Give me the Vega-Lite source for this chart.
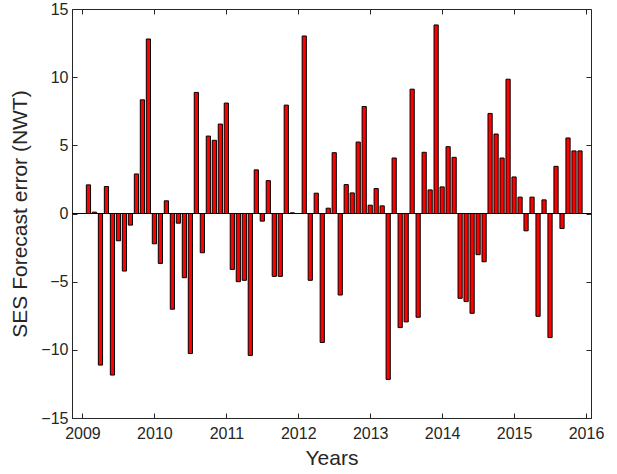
{
  "$schema": "https://vega.github.io/schema/vega-lite/v6.json",
  "autosize": "none",
  "width": 519,
  "height": 409,
  "padding": {"left": 72, "top": 9, "right": 26, "bottom": 56},
  "background": "white",
  "config": {
    "view": {"stroke": "#262626", "strokeWidth": 1},
    "font": "Liberation Sans",
    "axis": {
      "domainColor": "#262626",
      "tickColor": "#262626",
      "labelColor": "#262626",
      "titleColor": "#262626",
      "labelFont": "Liberation Sans",
      "titleFont": "Liberation Sans",
      "labelFontSize": 16,
      "titleFontSize": 21,
      "titleFontWeight": "normal",
      "grid": false,
      "tickSize": -5
    }
  },
  "data": {
    "values": [
      {"t": 2009.0833, "err": 2.1},
      {"t": 2009.1667, "err": 0.1},
      {"t": 2009.25, "err": -11.12},
      {"t": 2009.3333, "err": 1.98},
      {"t": 2009.4167, "err": -11.85},
      {"t": 2009.5, "err": -2.0},
      {"t": 2009.5833, "err": -4.22},
      {"t": 2009.6667, "err": -0.85},
      {"t": 2009.75, "err": 2.9},
      {"t": 2009.8333, "err": 8.34},
      {"t": 2009.9167, "err": 12.8},
      {"t": 2010.0, "err": -2.22},
      {"t": 2010.0833, "err": -3.66},
      {"t": 2010.1667, "err": 0.93},
      {"t": 2010.25, "err": -7.02},
      {"t": 2010.3333, "err": -0.71},
      {"t": 2010.4167, "err": -4.71},
      {"t": 2010.5, "err": -10.27},
      {"t": 2010.5833, "err": 8.88},
      {"t": 2010.6667, "err": -2.88},
      {"t": 2010.75, "err": 5.68},
      {"t": 2010.8333, "err": 5.37},
      {"t": 2010.9167, "err": 6.56},
      {"t": 2011.0, "err": 8.1},
      {"t": 2011.0833, "err": -4.1},
      {"t": 2011.1667, "err": -5.0},
      {"t": 2011.25, "err": -4.9},
      {"t": 2011.3333, "err": -10.41},
      {"t": 2011.4167, "err": 3.2},
      {"t": 2011.5, "err": -0.56},
      {"t": 2011.5833, "err": 2.41},
      {"t": 2011.6667, "err": -4.61},
      {"t": 2011.75, "err": -4.61},
      {"t": 2011.8333, "err": 7.95},
      {"t": 2011.9167, "err": 0.05},
      {"t": 2012.0, "err": 0},
      {"t": 2012.0833, "err": 13.02},
      {"t": 2012.1667, "err": -4.9},
      {"t": 2012.25, "err": 1.49},
      {"t": 2012.3333, "err": -9.46},
      {"t": 2012.4167, "err": 0.39},
      {"t": 2012.5, "err": 4.46},
      {"t": 2012.5833, "err": -5.98},
      {"t": 2012.6667, "err": 2.12},
      {"t": 2012.75, "err": 1.51},
      {"t": 2012.8333, "err": 5.24},
      {"t": 2012.9167, "err": 7.85},
      {"t": 2013.0, "err": 0.61},
      {"t": 2013.0833, "err": 1.83},
      {"t": 2013.1667, "err": 0.56},
      {"t": 2013.25, "err": -12.17},
      {"t": 2013.3333, "err": 4.07},
      {"t": 2013.4167, "err": -8.37},
      {"t": 2013.5, "err": -7.95},
      {"t": 2013.5833, "err": 9.12},
      {"t": 2013.6667, "err": -7.61},
      {"t": 2013.75, "err": 4.49},
      {"t": 2013.8333, "err": 1.73},
      {"t": 2013.9167, "err": 13.83},
      {"t": 2014.0, "err": 1.95},
      {"t": 2014.0833, "err": 4.9},
      {"t": 2014.1667, "err": 4.12},
      {"t": 2014.25, "err": -6.22},
      {"t": 2014.3333, "err": -6.46},
      {"t": 2014.4167, "err": -7.32},
      {"t": 2014.5, "err": -3.02},
      {"t": 2014.5833, "err": -3.54},
      {"t": 2014.6667, "err": 7.34},
      {"t": 2014.75, "err": 5.83},
      {"t": 2014.8333, "err": 4.07},
      {"t": 2014.9167, "err": 9.85},
      {"t": 2015.0, "err": 2.68},
      {"t": 2015.0833, "err": 1.2},
      {"t": 2015.1667, "err": -1.27},
      {"t": 2015.25, "err": 1.2},
      {"t": 2015.3333, "err": -7.54},
      {"t": 2015.4167, "err": 1.0},
      {"t": 2015.5, "err": -9.1},
      {"t": 2015.5833, "err": 3.46},
      {"t": 2015.6667, "err": -1.1},
      {"t": 2015.75, "err": 5.54},
      {"t": 2015.8333, "err": 4.59},
      {"t": 2015.9167, "err": 4.59}
    ]
  },
  "layer": [
    {
      "mark": {"type": "bar", "orient": "vertical", "size": 4.2, "fill": "#ff0000", "stroke": "#000000", "strokeWidth": 1},
      "encoding": {
        "x": {
          "field": "t", "type": "quantitative",
          "scale": {"domain": [2008.924, 2016], "nice": false, "zero": false},
          "axis": {"values": [2009, 2010, 2011, 2012, 2013, 2014, 2015, 2016], "format": "d", "title": "Years", "labelPadding": 12, "titlePadding": 6}
        },
        "y": {
          "field": "err", "type": "quantitative",
          "scale": {"domain": [-15, 15], "nice": false},
          "axis": {"values": [-15, -10, -5, 0, 5, 10, 15], "title": "SES Forecast error (NWT)", "labelPadding": 9, "titlePadding": 10}
        }
      }
    },
    {
      "mark": {"type": "rule", "color": "#000000", "strokeWidth": 1},
      "encoding": {"y": {"datum": 0, "type": "quantitative", "axis": null}}
    },
    {
      "mark": {"type": "point", "opacity": 0},
      "encoding": {
        "x": {
          "field": "t", "type": "quantitative",
          "axis": {"orient": "top", "values": [2009, 2010, 2011, 2012, 2013, 2014, 2015, 2016], "labels": false, "title": null, "domain": false}
        },
        "y": {
          "field": "err", "type": "quantitative",
          "axis": {"orient": "right", "values": [-15, -10, -5, 0, 5, 10, 15], "labels": false, "title": null, "domain": false}
        }
      }
    }
  ],
  "resolve": {"axis": {"x": "independent", "y": "independent"}}
}
